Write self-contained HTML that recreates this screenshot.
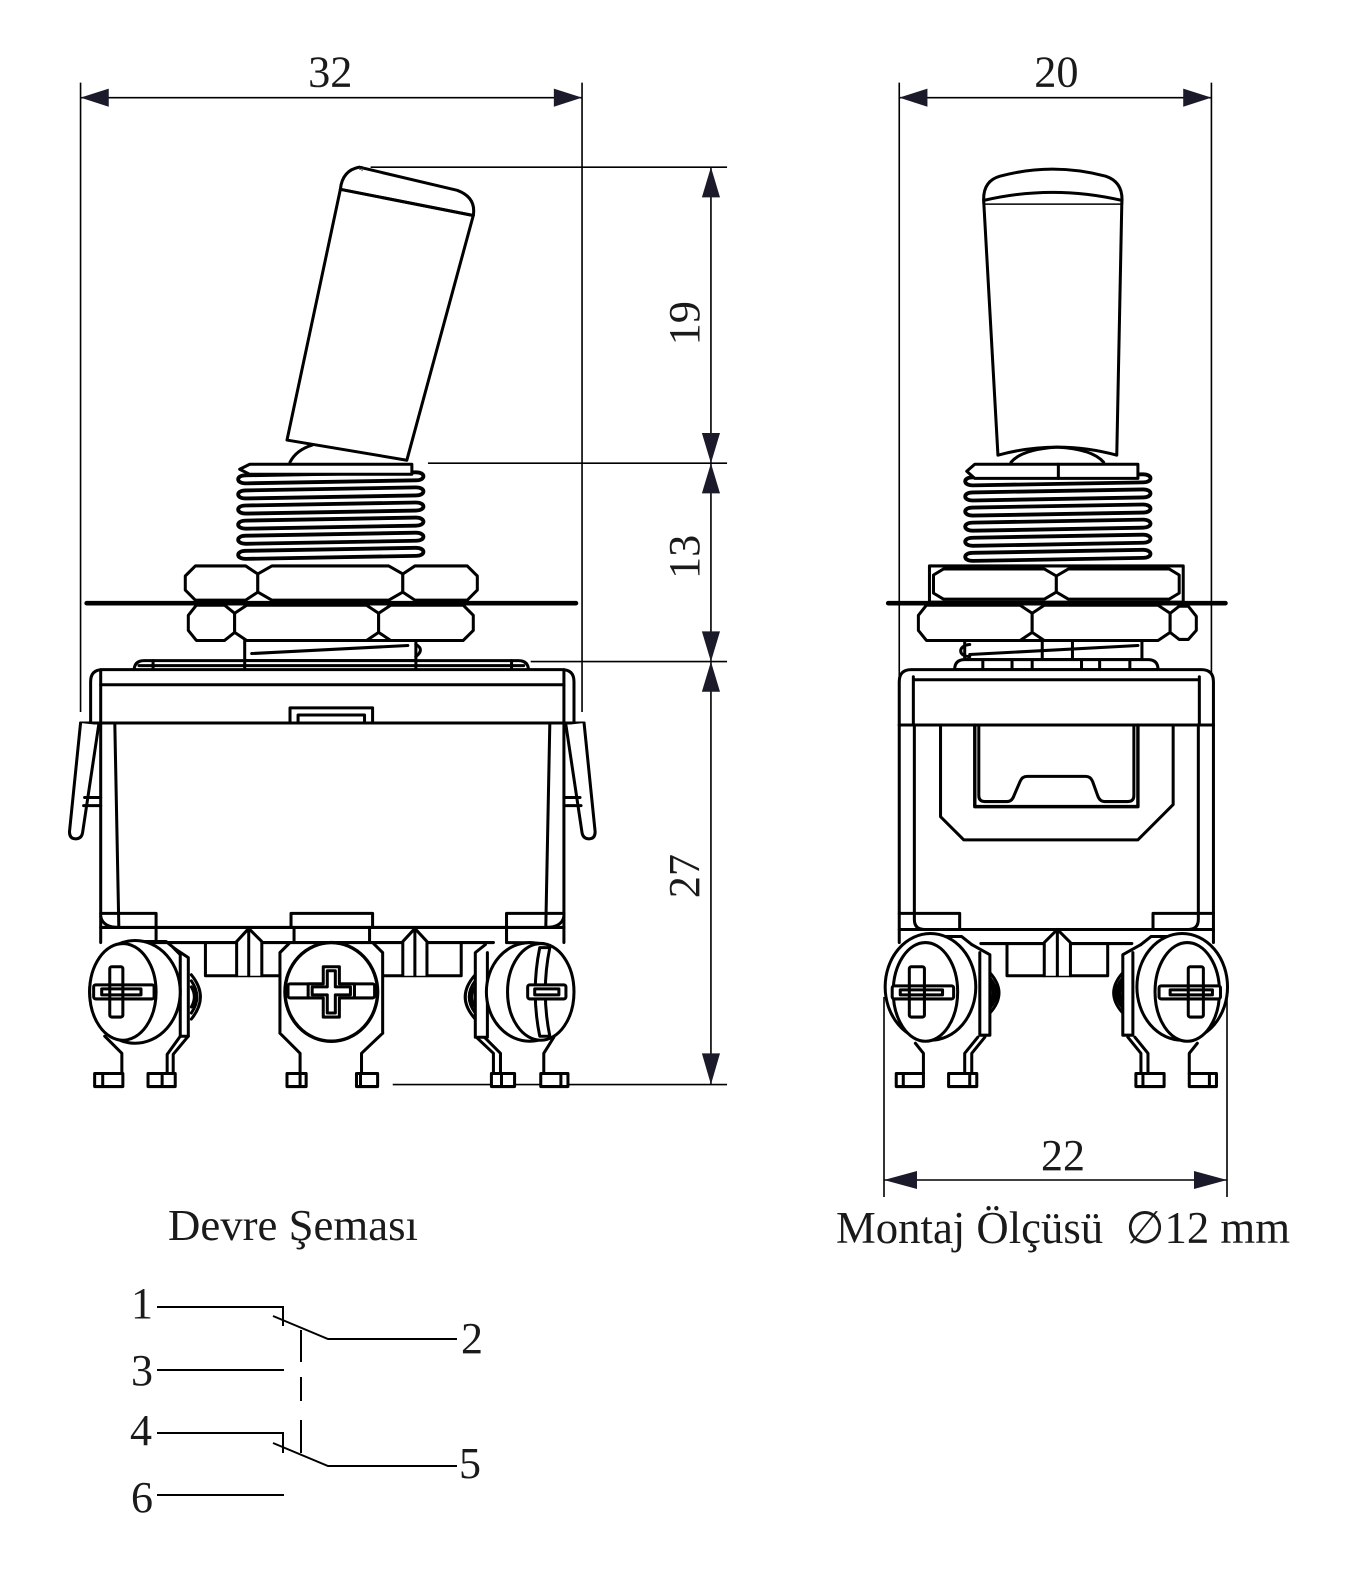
<!DOCTYPE html>
<html><head><meta charset="utf-8"><style>
html,body{margin:0;padding:0;background:#fff;}
svg{display:block;}
text{font-family:"Liberation Serif","DejaVu Serif",serif;fill:#1a1a1a;stroke:none;}
</style></head><body>
<svg width="1361" height="1581" viewBox="0 0 1361 1581" xmlns="http://www.w3.org/2000/svg">
<rect width="1361" height="1581" fill="#fff"/>
<g transform="scale(1.007)">

<!-- ================= DIMENSIONS ================= -->
<g stroke="#000" stroke-width="1.6" fill="none">
  <path d="M80,82 V707 M578,82 V707 M80,97 H578"/>
  <path d="M368,166 H722 M425,460 H722 M527,657 H722 M390,1077 H722"/>
  <path d="M706,166 V1077"/>
  <path d="M893,82 V700 M1203,82 V700 M893,97 H1203"/>
</g>
<g fill="#1a1a2a" stroke="none">
  <polygon points="80,97 108,88 108,106"/>
  <polygon points="578,97 550,88 550,106"/>
  <polygon points="893,97 921,88 921,106"/>
  <polygon points="1203,97 1175,88 1175,106"/>
  <polygon points="706,166 697,196 715,196"/>
  <polygon points="706,460 697,430 715,430"/>
  <polygon points="706,460 697,490 715,490"/>
  <polygon points="706,657 697,627 715,627"/>
  <polygon points="706,657 697,687 715,687"/>
  <polygon points="706,1077 697,1046 715,1046"/>
</g>
<text x="328" y="86" font-size="44" text-anchor="middle">32</text>
<text x="1049" y="86" font-size="44" text-anchor="middle">20</text>
<text transform="translate(694,321) rotate(-90)" font-size="44" text-anchor="middle">19</text>
<text transform="translate(694,553) rotate(-90)" font-size="44" text-anchor="middle">13</text>
<text transform="translate(694,870) rotate(-90)" font-size="44" text-anchor="middle">27</text>

<!-- ================= LEFT VIEW ================= -->
<g stroke="#000" stroke-width="3" fill="none" stroke-linejoin="round" stroke-linecap="round">
  <!-- lever -->
  <path d="M338,188 L285,437 L404,457 L470,214 Z" fill="#fff"/>
  <path d="M338,188 Q340,169 357,166 L454,189 Q473,196 470,214"/>
  <path d="M338,188 L470,214"/>
  <path d="M288,459 Q294,447 310,442"/>

  <!-- threads -->
  <g fill="#fff" stroke-width="3.8">
    <path d="M244,472 L413,469 C423,469 423,477 413,477 L244,480 C234,480 234,472 244,472 Z"/>
    <path d="M244,487 L413,484 C423,484 423,492 413,492 L244,495 C234,495 234,487 244,487 Z"/>
    <path d="M244,502 L413,499 C423,499 423,507 413,507 L244,510 C234,510 234,502 244,502 Z"/>
    <path d="M244,517 L413,514 C423,514 423,522 413,522 L244,525 C234,525 234,517 244,517 Z"/>
    <path d="M244,532 L413,529 C423,529 423,537 413,537 L244,540 C234,540 234,532 244,532 Z"/>
    <path d="M244,547 L413,544 C423,544 423,552 413,552 L244,555 C234,555 234,547 244,547 Z"/>
  </g>
  <!-- bushing top -->
  <path d="M248,461 H409 V471 H248 L238,466 Z" fill="#fff"/>

  <!-- upper nut -->
  <polygon fill="#fff" points="184,572 194,562 244,562 256,570 256,588 244,596 194,596 184,586"/>
  <polygon fill="#fff" points="256,570 270,562 386,562 400,570 400,588 386,596 270,596 256,588"/>
  <polygon fill="#fff" points="400,570 412,562 464,562 474,572 474,586 464,596 412,596 400,588"/>
  <!-- lower nut -->
  <polygon fill="#fff" points="187,611 195,601 223,601 233,609 233,628 223,636 195,636 187,626"/>
  <polygon fill="#fff" points="233,609 245,601 364,601 376,609 376,628 364,636 245,636 233,628"/>
  <polygon fill="#fff" points="376,609 388,601 460,601 470,611 470,626 460,636 388,636 376,628"/>
  <!-- lower bushing -->
  <rect x="243" y="636" width="170" height="20" fill="#fff"/>
  <path d="M250,649 L405,641"/>
  <path d="M413,640 Q422,645 413,652"/>
  <!-- flange -->
  <path d="M133,667 Q133,656 143,656 H515 Q525,656 525,667 Z" fill="#fff"/>
  <path d="M138,661 H520 M152,656 V667 M243,656 V667 M413,656 V667 M508,656 V667"/>

  <!-- body cap -->
  <path d="M90,718 V677 Q90,665 102,665 H558 Q570,665 570,677 V718 Z" fill="#fff"/>
  <path d="M100,665 V936 M560,665 V936"/>
  <path d="M100,680 H560"/>
  <rect x="288" y="703" width="82" height="15" fill="#fff"/>
  <rect x="296" y="710" width="66" height="8"/>
  <path d="M80,718 H580"/>
  <path d="M114,718 L118,921 M546,718 L542,921"/>
  <!-- clips -->
  <path d="M80,718 L69,826 Q69,833 75,833 Q81,833 82,827 L98,720" fill="#fff"/>
  <path d="M84,792 H100 M83,800 H100"/>
  <path d="M580,718 L591,826 Q591,833 585,833 Q579,833 578,827 L562,720" fill="#fff"/>
  <path d="M560,792 H576 M560,800 H577"/>

  <!-- lower body -->
  <path d="M100,907 H155 V921"/>
  <path d="M100,910 Q102,921 118,921"/>
  <path d="M289,921 V907 H370 V921"/>
  <path d="M560,907 H503 V921"/>
  <path d="M560,910 Q558,921 542,921"/>
  <path d="M100,921 H560"/>
  <path d="M292,921 V936 M367,921 V936 M155,921 V936 M503,921 V936"/>
  <path d="M150,936 H292 M367,936 H490"/>
  <path d="M204,936 V969 H282 M378,969 H458 V936"/>
  <path d="M235,969 V935 L247,922 L260,935 V969 M247,922 V969" fill="#fff"/>
  <path d="M400,969 V935 L412,922 L424,935 V969 M412,922 V969" fill="#fff"/>

  <!-- left terminal -->
  <path d="M104,1029 L121,1046 V1066 M179,1029 L166,1047 V1066 M187,1029 L172,1047 V1066"/>
  <rect x="94" y="1066" width="28" height="13" fill="#fff"/><path d="M102,1066 V1079"/>
  <rect x="147" y="1066" width="27" height="13" fill="#fff"/><path d="M161,1066 V1079"/>
  <path d="M190,968 Q208,990 190,1012 M190,974 Q201,990 190,1006 M190,980 Q196,990 190,1000"/>
  <path d="M172,941 L187,951 V1029 H179 V948 Z" fill="#fff"/>
  <path d="M110,950 Q118,936 138,935 H165 L176,944" />
  <ellipse cx="134" cy="985" rx="45" ry="51" fill="#fff"/>
  <ellipse cx="122" cy="985" rx="33" ry="48" fill="#fff"/>
  <rect x="109" y="960" width="13" height="50" rx="2" fill="#fff"/>
  <rect x="93" y="978" width="60" height="14" rx="2" fill="#fff"/>
  <path d="M101,982 H140 V988 H101 Z M109,978 V992 M122,978 V992"/>

  <!-- middle terminal -->
  <path d="M278,1026 L298,1046 V1066 M380,1026 L359,1046 V1066"/>
  <path d="M278,1026 V946 L288,936 H370 L380,946 V1026" fill="#fff"/>
  <rect x="285" y="1066" width="19" height="13" fill="#fff"/><path d="M298,1066 V1079"/>
  <rect x="354" y="1066" width="21" height="13" fill="#fff"/><path d="M358,1066 V1079"/>
  <ellipse cx="329" cy="985" rx="46" ry="49" fill="#fff" stroke-width="3.4"/>
  <rect x="286" y="977" width="86" height="14" rx="2" fill="#fff"/>
  <path d="M321,960 H337 V977 H352 V991 H337 V1010 H321 V991 H306 V977 H321 Z" fill="#fff"/>
  <path d="M325,964 H333 V980 H348 V988 H333 V1006 H325 V988 H310 V980 H325 Z"/>

  <!-- right terminal -->
  <path d="M473,1030 L490,1046 V1066 M481,1030 L497,1046 V1066 M550,1030 L540,1046 V1066"/>
  <rect x="488" y="1066" width="23" height="13" fill="#fff"/><path d="M498,1066 V1079"/>
  <rect x="537" y="1066" width="27" height="13" fill="#fff"/><path d="M557,1066 V1079"/>
  <path d="M472,968 Q452,990 472,1012 M472,974 Q460,990 472,1006 M472,980 Q465,990 472,1000"/>
  <path d="M482,938 L472,946 V1030 H484 V946" fill="#fff"/>
  <path d="M503,921 V936 Q520,936 540,937 L552,945"/>
  <ellipse cx="526" cy="985" rx="43" ry="49" fill="#fff"/>
  <ellipse cx="537" cy="985" rx="33" ry="48" fill="#fff"/>
  <path d="M536,941 Q527,985 536,1029 L546,1029 Q537,985 546,941 Z" fill="#fff"/>
  <rect x="524" y="978" width="38" height="14" rx="2" fill="#fff"/>
  <path d="M531,982 H555 V988 H531 Z"/>
</g>
<path d="M86,599 H572" stroke="#000" stroke-width="4.5" stroke-linecap="round"/>
<text x="356" y="174" font-size="14">*</text>

<!-- ================= RIGHT VIEW ================= -->
<g stroke="#000" stroke-width="3" fill="none" stroke-linejoin="round" stroke-linecap="round">
  <!-- lever -->
  <path d="M977,202 L991,452 Q1050,436 1109,452 L1114,202 Z" fill="#fff"/>
  <path d="M977,202 Q975,180 993,175 Q1045,161 1098,175 Q1116,181 1114,202" fill="#fff"/>
  <path d="M977,199 Q1045,183 1114,199"/>
  <path d="M1004,459 Q1015,446 1050,444 Q1085,446 1096,459"/>

  <!-- threads -->
  <g fill="#fff" stroke-width="3.8">
    <path d="M966,474 L1135,471 C1145,471 1145,479 1135,479 L966,482 C956,482 956,474 966,474 Z"/>
    <path d="M966,489 L1135,486 C1145,486 1145,494 1135,494 L966,497 C956,497 956,489 966,489 Z"/>
    <path d="M966,504 L1135,501 C1145,501 1145,509 1135,509 L966,512 C956,512 956,504 966,504 Z"/>
    <path d="M966,519 L1135,516 C1145,516 1145,524 1135,524 L966,527 C956,527 956,519 966,519 Z"/>
    <path d="M966,534 L1135,531 C1145,531 1145,539 1135,539 L966,542 C956,542 956,534 966,534 Z"/>
    <path d="M966,549 L1135,546 C1145,546 1145,554 1135,554 L966,557 C956,557 956,549 966,549 Z"/>
  </g>
  <!-- bushing top -->
  <path d="M968,461 H1130 V475 H968 L960,468 Z" fill="#fff"/>
  <path d="M1051,461 V475"/>

  <!-- upper nut -->
  <rect x="923" y="562" width="252" height="36" fill="#fff"/>
  <polygon fill="#fff" points="927,571 937,565 1037,565 1049,572 1049,588 1037,595 937,595 927,589"/>
  <polygon fill="#fff" points="1049,572 1061,565 1161,565 1171,571 1171,589 1161,595 1061,595 1049,588"/>
  <!-- lower nut -->
  <polygon fill="#fff" points="912,611 920,601 1013,601 1025,609 1025,628 1013,636 920,636 912,626"/>
  <polygon fill="#fff" points="1025,609 1037,601 1150,601 1162,609 1162,628 1150,636 1037,636 1025,628"/>
  <polygon fill="#fff" points="1162,609 1171,602 1180,602 1188,612 1188,626 1180,635 1171,635 1162,628"/>
  <!-- lower bushing -->
  <rect x="958" y="636" width="176" height="19" fill="#fff"/>
  <rect x="1035" y="636" width="30" height="19"/>
  <path d="M963,650 L1130,641"/>
  <path d="M963,640 C951,641 951,652 963,652"/>
  <!-- flange -->
  <path d="M948,665 Q948,655 958,655 H1140 Q1150,655 1150,665 Z" fill="#fff"/>
  <path d="M976,656 V665 M1005,656 V665 M1025,656 V665 M1074,656 V665 M1092,656 V665 M1122,656 V665"/>

  <!-- body cap -->
  <path d="M893,720 V677 Q893,665 905,665 H1193 Q1205,665 1205,677 V720 Z" fill="#fff"/>
  <path d="M907,672 V720 M1191,672 V720 M907,675 H1191"/>
  <path d="M893,720 H1205"/>
  <!-- body lower -->
  <path d="M893,720 V936 M1205,720 V936"/>
  <path d="M908,720 V913 Q908,923 918,923 M1190,720 V913 Q1190,923 1180,923"/>
  <path d="M934,720 V811 L957,834 H1130 L1165,799 V720"/>
  <path d="M968,720 V801 H1130 V720" stroke-width="3.4"/>
  <path d="M972,720 V790 Q972,796 978,796 H1000 Q1005,796 1007,790 L1013,776 Q1015,771 1020,771 H1078 Q1083,771 1085,776 L1090,790 Q1092,796 1097,796 H1120 Q1126,796 1126,790 V720"/>
  <path d="M893,907 H953 V923 M1205,907 H1145 V923"/>
  <path d="M893,923 H1205"/>
  <path d="M974,937 H1124"/>
  <path d="M1000,937 V969 H1100 V937"/>
  <path d="M1037,969 V936 L1050,923 L1063,936 V969 M1050,923 V969" fill="#fff"/>

  <!-- terminals (right view) -->
  <g>
    <path d="M909,1036 L917,1046 V1066 M971,1030 L958,1046 V1066 M978,1030 L965,1046 V1066"/>
    <rect x="890" y="1066" width="27" height="13" fill="#fff"/><path d="M897,1066 V1079"/>
    <rect x="942" y="1066" width="28" height="13" fill="#fff"/><path d="M963,1066 V1079"/>
    <path d="M983,966 Q1001,986 983,1006 M983,971 Q995,986 983,1001 M983,976 Q989,986 983,996"/>
    <path d="M965,938 L983,948 V1028 H973 V946" fill="#fff"/>
    <path d="M900,945 Q910,930 930,930 H955 L965,938"/>
    <ellipse cx="924" cy="980" rx="45" ry="53" fill="#fff"/>
    <ellipse cx="919" cy="985" rx="32" ry="49" fill="#fff"/>
    <rect x="903" y="960" width="15" height="50" rx="2" fill="#fff"/>
    <rect x="886" y="979" width="61" height="13" rx="2" fill="#fff"/>
    <path d="M894,983 H936 V988 H894 Z M903,979 V992 M918,979 V992"/>
  </g>
  <g transform="translate(2098,0) scale(-1,1)">
    <path d="M909,1036 L917,1046 V1066 M971,1030 L958,1046 V1066 M978,1030 L965,1046 V1066"/>
    <rect x="890" y="1066" width="27" height="13" fill="#fff"/><path d="M897,1066 V1079"/>
    <rect x="942" y="1066" width="28" height="13" fill="#fff"/><path d="M963,1066 V1079"/>
    <path d="M983,966 Q1001,986 983,1006 M983,971 Q995,986 983,1001 M983,976 Q989,986 983,996"/>
    <path d="M965,938 L983,948 V1028 H973 V946" fill="#fff"/>
    <path d="M900,945 Q910,930 930,930 H955 L965,938"/>
    <ellipse cx="924" cy="980" rx="45" ry="53" fill="#fff"/>
    <ellipse cx="919" cy="985" rx="32" ry="49" fill="#fff"/>
    <rect x="903" y="960" width="15" height="50" rx="2" fill="#fff"/>
    <rect x="886" y="979" width="61" height="13" rx="2" fill="#fff"/>
    <path d="M894,983 H936 V988 H894 Z M903,979 V992 M918,979 V992"/>
  </g>
</g>
<path d="M882,599 H1217" stroke="#000" stroke-width="4.5" stroke-linecap="round"/>
</g>

<!-- ================= 22 DIMENSION ================= -->
<g stroke="#000" stroke-width="1.6" fill="none">
  <path d="M884,997 V1197 M1227,997 V1197 M884,1180 H1227"/>
</g>
<polygon points="884,1180 917,1171 917,1189" fill="#1a1a2a"/>
<polygon points="1227,1180 1194,1171 1194,1189" fill="#1a1a2a"/>
<text x="1063" y="1170" font-size="44" text-anchor="middle">22</text>

<!-- ================= CAPTIONS ================= -->
<text x="168" y="1240" font-size="44" textLength="250" lengthAdjust="spacingAndGlyphs">Devre Şeması</text>
<text x="836" y="1243" font-size="45" textLength="454" lengthAdjust="spacingAndGlyphs">Montaj Ölçüsü &#160;∅12 mm</text>

<!-- ================= SCHEMATIC ================= -->
<g stroke="#000" stroke-width="2" fill="none">
  <path d="M157,1307 H283 V1326"/>
  <path d="M273,1316 L328,1339 H457"/>
  <path d="M157,1370 H284"/>
  <path d="M157,1433 H283 V1453"/>
  <path d="M273,1443 L328,1466 H457"/>
  <path d="M157,1495 H284"/>
  <path d="M301,1330 V1362 M301,1377 V1401 M301,1420 V1453"/>
</g>
<text x="142" y="1318" font-size="44" text-anchor="middle">1</text>
<text x="472" y="1353" font-size="44" text-anchor="middle">2</text>
<text x="142" y="1385" font-size="44" text-anchor="middle">3</text>
<text x="141" y="1445" font-size="44" text-anchor="middle">4</text>
<text x="470" y="1478" font-size="44" text-anchor="middle">5</text>
<text x="142" y="1512" font-size="44" text-anchor="middle">6</text>
</svg>
</body></html>
